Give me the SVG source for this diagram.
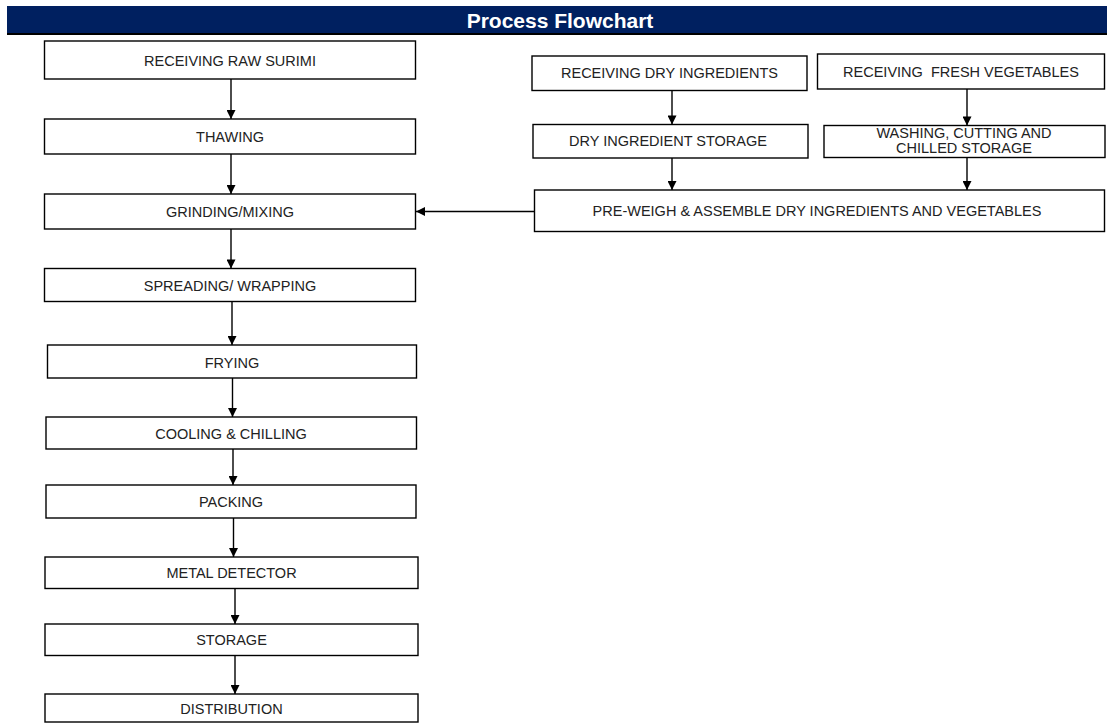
<svg xmlns="http://www.w3.org/2000/svg" width="1107" height="725" viewBox="0 0 1107 725">
<style>
.box{fill:#fff;stroke:#000;stroke-width:1.4}
.t{font-family:"Liberation Sans",Arial,sans-serif;font-size:14.5px;fill:#222;text-anchor:middle}
.c{stroke:#000;stroke-width:1.4;fill:none;marker-end:url(#ah)}
</style>
<defs>
<marker id="ah" viewBox="0 0 10 10" refX="10" refY="5" markerWidth="10" markerHeight="9" markerUnits="userSpaceOnUse" orient="auto"><path d="M0,0 L10,5 L0,10 z" fill="#000"/></marker>
</defs>
<rect width="1107" height="725" fill="#fff"/>
<g id="header">
<rect x="7" y="6" width="1100" height="27" fill="#002060"/>
<rect x="7" y="33" width="1100" height="2" fill="#000"/>
<text x="560" y="28" font-family="Liberation Sans,Arial,sans-serif" font-size="21" font-weight="bold" fill="#fff" text-anchor="middle">Process Flowchart</text>
</g>
<g id="connectors">
<line class="c" x1="231" y1="79" x2="231" y2="119"/>
<line class="c" x1="231" y1="154" x2="231" y2="194"/>
<line class="c" x1="231" y1="229" x2="231" y2="268.5"/>
<line class="c" x1="232" y1="301.5" x2="232" y2="345"/>
<line class="c" x1="232.5" y1="378" x2="232.5" y2="417"/>
<line class="c" x1="233" y1="449" x2="233" y2="485"/>
<line class="c" x1="233.5" y1="518" x2="233.5" y2="557"/>
<line class="c" x1="235" y1="589" x2="235" y2="624"/>
<line class="c" x1="235" y1="656" x2="235" y2="694"/>
<line class="c" x1="672" y1="90.5" x2="672" y2="124.5"/>
<line class="c" x1="967" y1="89" x2="967" y2="125.5"/>
<line class="c" x1="672" y1="158" x2="672" y2="190"/>
<line class="c" x1="967" y1="157.5" x2="967" y2="190"/>
<line class="c" x1="534.5" y1="211.5" x2="416" y2="211.5"/>
</g>
<g id="n1"><rect class="box" x="44.5" y="41" width="371" height="38"/><text class="t" x="230" y="66">RECEIVING RAW SURIMI</text></g>
<g id="n2"><rect class="box" x="44.5" y="119" width="371" height="35"/><text class="t" x="230" y="142">THAWING</text></g>
<g id="n3"><rect class="box" x="44.5" y="194" width="371" height="35"/><text class="t" x="230" y="217">GRINDING/MIXING</text></g>
<g id="n4"><rect class="box" x="44.5" y="268.5" width="371" height="33"/><text class="t" x="230" y="291">SPREADING/ WRAPPING</text></g>
<g id="n5"><rect class="box" x="47.5" y="345" width="369" height="33"/><text class="t" x="232" y="367.5">FRYING</text></g>
<g id="n6"><rect class="box" x="46" y="417" width="370.5" height="32"/><text class="t" x="231" y="438.5">COOLING &amp; CHILLING</text></g>
<g id="n7"><rect class="box" x="46" y="485" width="370" height="33"/><text class="t" x="231" y="507">PACKING</text></g>
<g id="n8"><rect class="box" x="45" y="557" width="373" height="31.5"/><text class="t" x="231.5" y="578">METAL DETECTOR</text></g>
<g id="n9"><rect class="box" x="45" y="624" width="373" height="31.5"/><text class="t" x="231.5" y="645">STORAGE</text></g>
<g id="n10"><rect class="box" x="45" y="694" width="373" height="28"/><text class="t" x="231.5" y="714">DISTRIBUTION</text></g>
<g id="n11"><rect class="box" x="532" y="56" width="275" height="34.5"/><text class="t" x="669.5" y="78">RECEIVING DRY INGREDIENTS</text></g>
<g id="n12"><rect class="box" x="817.5" y="54" width="287" height="35"/><text class="t" x="961" y="76.5" xml:space="preserve">RECEIVING  FRESH VEGETABLES</text></g>
<g id="n13"><rect class="box" x="533" y="124.5" width="275" height="33.5"/><text class="t" x="668" y="146">DRY INGREDIENT STORAGE</text></g>
<g id="n14"><rect class="box" x="824" y="125.5" width="281" height="32"/><text class="t" x="964" y="138">WASHING, CUTTING AND</text><text class="t" x="964" y="153">CHILLED STORAGE</text></g>
<g id="n15"><rect class="box" x="534.5" y="190" width="570" height="41.5"/><text class="t" x="817" y="216">PRE-WEIGH &amp; ASSEMBLE DRY INGREDIENTS AND VEGETABLES</text></g>
</svg>
